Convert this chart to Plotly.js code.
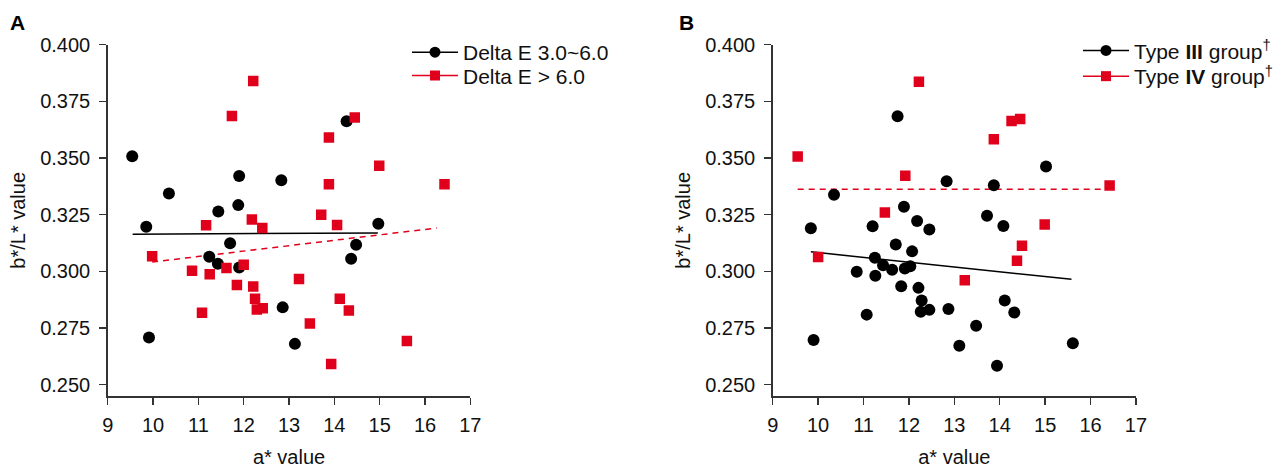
<!DOCTYPE html>
<html>
<head>
<meta charset="utf-8">
<script src="https://cdn.plot.ly/plotly-3.0.1.min.js"></script>
<style>html,body{margin:0;padding:0;background:#fff;}#chart{width:1284px;height:468px;}</style>
</head>
<body>
<div id="chart"></div>
<script>
// ---- Panel A data ----
const aGroup1Name = "Delta E 3.0~6.0";
const aGroup1X = [9.54, 10.35, 11.90, 12.83, 11.88, 11.44, 9.85, 11.70, 11.24, 11.43, 11.90, 12.86, 9.91, 14.97, 14.48, 14.37, 13.13, 14.27];
const aGroup1Y = [0.3508, 0.3343, 0.3420, 0.3402, 0.3292, 0.3264, 0.3197, 0.3124, 0.3064, 0.3033, 0.3017, 0.2841, 0.2708, 0.3210, 0.3117, 0.3055, 0.2680, 0.3662];
const aGroup2Name = "Delta E &gt; 6.0";
const aGroup2X = [12.21, 11.74, 14.45, 13.88, 14.99, 13.88, 16.43, 11.17, 12.18, 12.41, 9.98, 10.86, 11.25, 11.62, 12.00, 11.85, 12.21, 12.25, 12.29, 12.42, 11.08, 13.71, 14.06, 13.22, 14.12, 14.32, 13.46, 15.60, 13.93];
const aGroup2Y = [0.3840, 0.3685, 0.3679, 0.3590, 0.3466, 0.3384, 0.3384, 0.3203, 0.3229, 0.3191, 0.3067, 0.3003, 0.2987, 0.3015, 0.3029, 0.2940, 0.2933, 0.2879, 0.2832, 0.2837, 0.2817, 0.3250, 0.3204, 0.2966, 0.2879, 0.2827, 0.2770, 0.2693, 0.2591];
const aFit1X = [9.55, 14.96];
const aFit1Y = [0.3164, 0.3169];
const aFit2X = [9.98, 16.26];
const aFit2Y = [0.3041, 0.3191];

// ---- Panel B data ----
const bGroup1Name = "Type <b>III</b> group<sup>†</sup>";
const bGroup1X = [10.35, 12.83, 11.75, 15.02, 13.87, 9.84, 11.89, 11.20, 12.18, 12.45, 11.71, 12.07, 11.25, 11.43, 11.63, 11.91, 12.03, 10.85, 11.26, 11.83, 12.21, 12.28, 12.26, 12.45, 12.87, 11.07, 9.90, 13.11, 13.72, 14.08, 14.11, 14.32, 13.48, 15.61, 13.94];
const bGroup1Y = [0.3338, 0.3397, 0.3684, 0.3462, 0.3380, 0.3190, 0.3285, 0.3199, 0.3222, 0.3184, 0.3118, 0.3088, 0.3060, 0.3027, 0.3007, 0.3012, 0.3022, 0.2998, 0.2980, 0.2934, 0.2927, 0.2871, 0.2822, 0.2830, 0.2834, 0.2809, 0.2697, 0.2672, 0.3245, 0.3200, 0.2871, 0.2818, 0.2760, 0.2683, 0.2584];
const bGroup2Name = "Type <b>IV</b> group<sup>†</sup>";
const bGroup2X = [9.55, 12.22, 11.92, 14.26, 14.45, 13.87, 16.42, 11.47, 10.00, 14.99, 14.49, 14.38, 13.23];
const bGroup2Y = [0.3506, 0.3836, 0.3421, 0.3663, 0.3672, 0.3582, 0.3378, 0.3259, 0.3063, 0.3206, 0.3113, 0.3047, 0.2961];
const bFit1X = [9.84, 15.58];
const bFit1Y = [0.3086, 0.2965];
const bFit2X = [9.55, 16.42];
const bFit2Y = [0.3362, 0.3362];

// ---- axis labels ----
const xTitle = "a* value";
const yTitle = "b*/L* value";
const panelLabels = ["A", "B"];

const BLACK = "#000000";
const RED = "#e0001b";
const FONT = "'Liberation Sans', Arial, Helvetica, sans-serif";

function markers(x, y, color, symbol, size, xa, ya) {
  return {x: x, y: y, xaxis: xa, yaxis: ya, type: "scatter", mode: "markers",
    marker: {color: color, symbol: symbol, size: size, line: {width: 0}},
    showlegend: false, hoverinfo: "x+y"};
}
function fit(x, y, color, dash, xa, ya) {
  return {x: x, y: y, xaxis: xa, yaxis: ya, type: "scatter", mode: "lines",
    line: {color: color, width: 1.5, dash: dash}, showlegend: false, hoverinfo: "skip"};
}
function legendItem(name, color, symbol, size, xa, ya, lg) {
  return {x: [null], y: [null], xaxis: xa, yaxis: ya, type: "scatter", mode: "lines+markers",
    name: name, legend: lg, line: {color: color, width: 1.5},
    marker: {color: color, symbol: symbol, size: size}, showlegend: true};
}

const data = [
  fit(aFit1X, aFit1Y, BLACK, "solid", "x", "y"),
  fit(aFit2X, aFit2Y, RED, "6px,5px", "x", "y"),
  markers(aGroup1X, aGroup1Y, BLACK, "circle", 12, "x", "y"),
  markers(aGroup2X, aGroup2Y, RED, "square", 10.5, "x", "y"),
  legendItem(aGroup1Name, BLACK, "circle", 11, "x", "y", "legend"),
  legendItem(aGroup2Name, RED, "square", 10, "x", "y", "legend3"),

  fit(bFit1X, bFit1Y, BLACK, "solid", "x2", "y2"),
  fit(bFit2X, bFit2Y, RED, "6px,5px", "x2", "y2"),
  markers(bGroup1X, bGroup1Y, BLACK, "circle", 12, "x2", "y2"),
  markers(bGroup2X, bGroup2Y, RED, "square", 10.5, "x2", "y2"),
  legendItem(bGroup1Name, BLACK, "circle", 11, "x2", "y2", "legend2"),
  legendItem(bGroup2Name, RED, "square", 10, "x2", "y2", "legend4")
];

function xAxis(domain, anchor) {
  return {domain: domain, anchor: anchor, range: [9, 17], dtick: 1, tick0: 9,
    showline: true, linecolor: "#333", linewidth: 1.5, ticks: "outside", ticklen: 7,
    tickwidth: 1.5, tickcolor: "#333", showgrid: false, zeroline: false,
    tickfont: {size: 20, color: "#111"}, ticklabelstandoff: 3,
    title: {text: xTitle, font: {size: 20, color: "#111"}, standoff: 18}};
}
function yAxis(anchor) {
  return {domain: [0.1538, 0.9047], anchor: anchor, range: [0.245, 0.4], dtick: 0.025, tick0: 0.25,
    tickformat: ".3f", showline: true, linecolor: "#333", linewidth: 1.5, ticks: "outside",
    ticklen: 7, tickwidth: 1.5, tickcolor: "#333", showgrid: false, zeroline: false,
    tickfont: {size: 20, color: "#111"}, ticklabelstandoff: 5,
    title: {text: yTitle, font: {size: 20, color: "#111"}, standoff: 9}};
}
function legendAt(px, py) {
  return {x: px / 1284, y: 1 - py / 468, xanchor: "left", yanchor: "top",
    bgcolor: "rgba(0,0,0,0)", font: {size: 21, color: "#111"}, itemwidth: 46, tracegroupgap: 0};
}

const layout = {
  width: 1284, height: 468,
  margin: {l: 0, r: 0, t: 0, b: 0},
  paper_bgcolor: "#fff", plot_bgcolor: "#fff",
  font: {family: FONT, color: "#111"},
  xaxis: xAxis([0.0839, 0.3663], "y"),
  yaxis: yAxis("x"),
  xaxis2: xAxis([0.6018, 0.8847], "y2"),
  yaxis2: yAxis("x2"),
  legend: legendAt(407, 32),
  legend3: legendAt(407, 55.3),
  legend2: legendAt(1078, 30.3),
  legend4: legendAt(1078, 56),
  annotations: [
    {text: "<b>" + panelLabels[0] + "</b>", xref: "paper", yref: "paper", x: 17 / 1284, y: 1 - 22 / 468,
      xanchor: "center", yanchor: "middle", showarrow: false, font: {size: 21, color: "#000"}},
    {text: "<b>" + panelLabels[1] + "</b>", xref: "paper", yref: "paper", x: 686 / 1284, y: 1 - 22 / 468,
      xanchor: "center", yanchor: "middle", showarrow: false, font: {size: 21, color: "#000"}}
  ]
};

Plotly.newPlot("chart", data, layout, {displayModeBar: false, staticPlot: true});
</script>
</body>
</html>
